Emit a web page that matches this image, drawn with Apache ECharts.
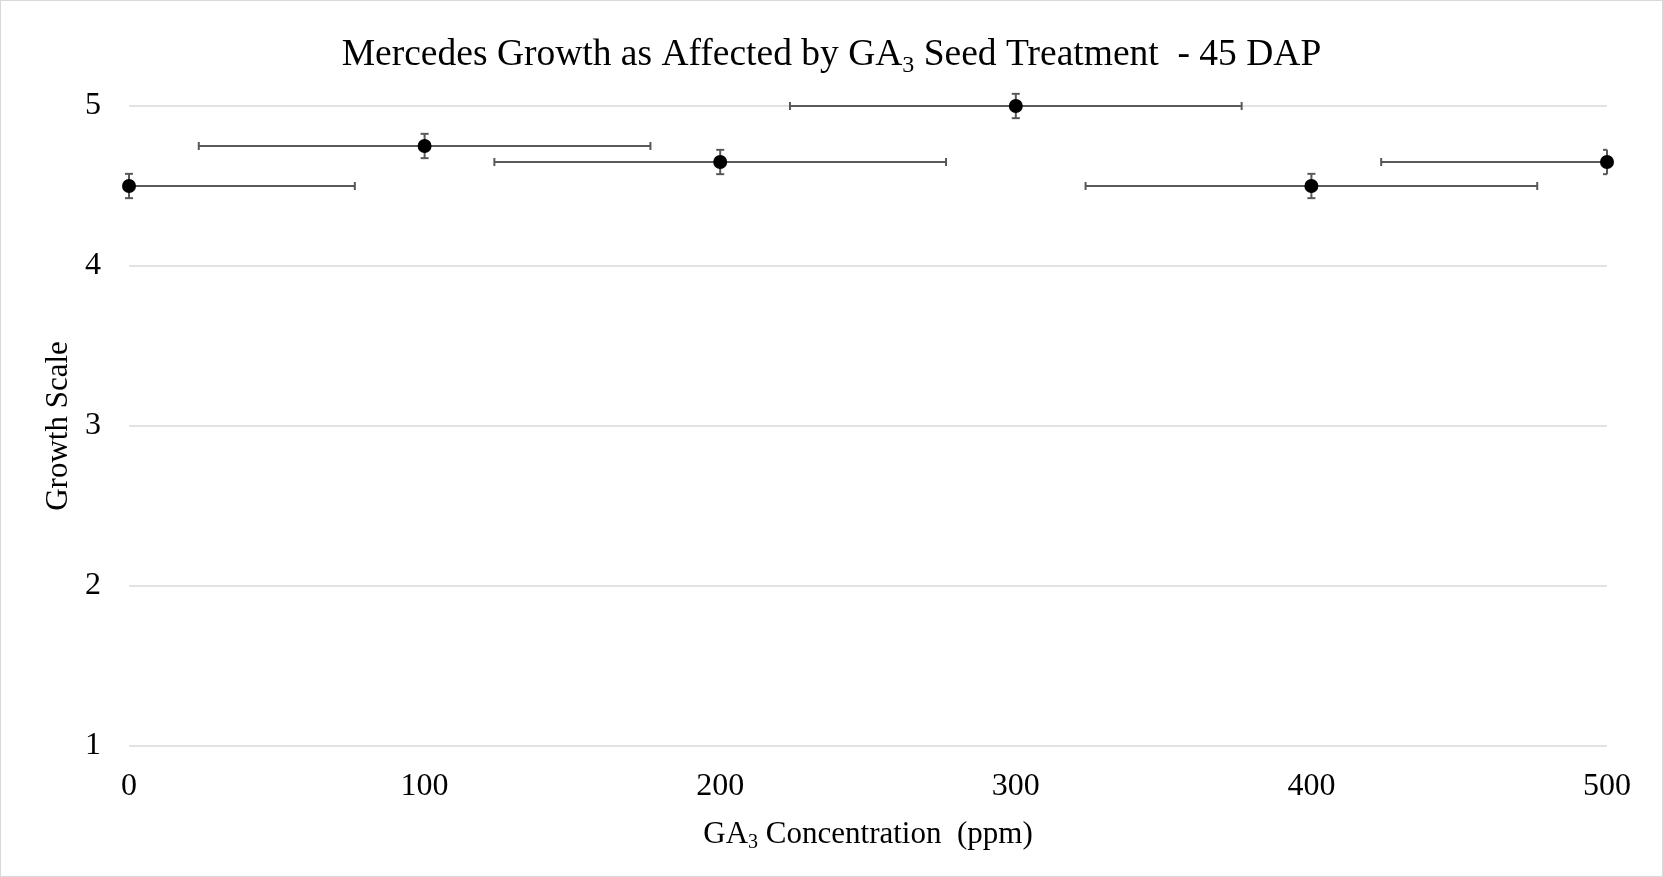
<!DOCTYPE html>
<html>
<head>
<meta charset="utf-8">
<script src="https://cdn.jsdelivr.net/npm/echarts@6/dist/echarts.min.js"></script>
<style>
  html, body { margin:0; padding:0; background:#fff; }
  #main { width:1663px; height:877px; box-sizing:border-box; border:1px solid #d9d9d9; }
</style>
</head>
<body>
<div id="main"></div>
<script>
// GA3 concentration (ppm) and growth scale
var concentration = [0, 100, 200, 300, 400, 500]
var growth = [4.5, 4.75, 4.65, 5, 4.5, 4.65]
var xError = [76.4, 76.4, 76.4, 76.4, 76.4, 76.4]  // horizontal error bars
var yError = [0.076, 0.076, 0.076, 0.076, 0.076, 0.076] // vertical error bars
var yTicks = [1, 2, 3, 4, 5]

var font = "'Liberation Serif', 'Times New Roman', serif"
var barColor = '#595959'

var points = []
var bars = []
for (let i = 0; i < concentration.length; i++) {
  points.push([concentration[i], growth[i]])
  bars.push([concentration[i], growth[i], xError[i], yError[i]])
}

function renderBars(params, api) {
  let cs = params.coordSys
  let minX = cs.x - 6, maxX = cs.x + cs.width  // plot area clip, like excel
  let x = api.value(0), y = api.value(1), xe = api.value(2), ye = api.value(3)
  let c = api.coord([x, y])
  let l = api.coord([x - xe, y]), r = api.coord([x + xe, y])
  let t = api.coord([x, y + ye]), b = api.coord([x, y - ye])
  let cap = 4
  let lines = []
  let x1 = Math.max(l[0], cs.x), x2 = Math.min(r[0], maxX)
  lines.push([x1, c[1], x2, c[1]])
  if (l[0] >= cs.x) lines.push([l[0], c[1] - cap, l[0], c[1] + cap])
  if (r[0] <= maxX) lines.push([r[0], c[1] - cap, r[0], c[1] + cap])
  let cl = Math.max(c[0] - cap, minX), cr = Math.min(c[0] + cap, maxX)
  lines.push([c[0], t[1], c[0], b[1]])
  lines.push([cl, t[1], cr, t[1]])
  lines.push([cl, b[1], cr, b[1]])
  return {
    type: 'group',
    children: lines.map(function (p) {
      return { type: 'line', shape: { x1: p[0], y1: p[1], x2: p[2], y2: p[3] }, style: { stroke: barColor, lineWidth: 2 } }
    })
  }
}

var chart = echarts.init(document.getElementById('main'))
chart.setOption({
  animation: false,
  title: {
    text: 'Mercedes Growth as Affected by GA{sub|3} Seed Treatment  - 45 DAP',
    left: 'center',
    top: 26,
    textStyle: {
      fontFamily: font, fontSize: 37.5, fontWeight: 'normal', color: '#000',
      rich: { sub: { fontFamily: font, fontSize: 24, color: '#000', padding: [22, 0, 0, 0] } }
    }
  },
  grid: { left: 128, right: 55, top: 105, bottom: 130, containLabel: false },
  xAxis: {
    type: 'value', min: 0, max: 500, interval: 100,
    name: 'GA{sub|3} Concentration  (ppm)',
    nameLocation: 'middle', nameGap: 70,
    nameTextStyle: {
      fontFamily: font, fontSize: 31, color: '#000',
      rich: { sub: { fontFamily: font, fontSize: 20, color: '#000', padding: [17, 0, 0, 0] } }
    },
    axisLine: { show: false }, axisTick: { show: false }, splitLine: { show: false },
    axisLabel: { fontFamily: font, fontSize: 32, color: '#000', margin: 25 }
  },
  yAxis: {
    type: 'value', min: yTicks[0], max: yTicks[yTicks.length - 1], interval: 1,
    name: 'Growth Scale', nameLocation: 'middle', nameGap: 52,
    nameTextStyle: { fontFamily: font, fontSize: 31, color: '#000' },
    axisLine: { show: false }, axisTick: { show: false },
    splitLine: { lineStyle: { color: '#d9d9d9', width: 1.5 } },
    axisLabel: { fontFamily: font, fontSize: 32, color: '#000', margin: 28 }
  },
  series: [
    {
      type: 'custom', data: bars, renderItem: renderBars, clip: false, z: 2,
      encode: { x: 0, y: 1 }
    },
    {
      type: 'scatter', data: points, symbol: 'circle', symbolSize: 14,
      itemStyle: { color: '#000', opacity: 1 }, clip: false, z: 3
    }
  ]
})
</script>
</body>
</html>
